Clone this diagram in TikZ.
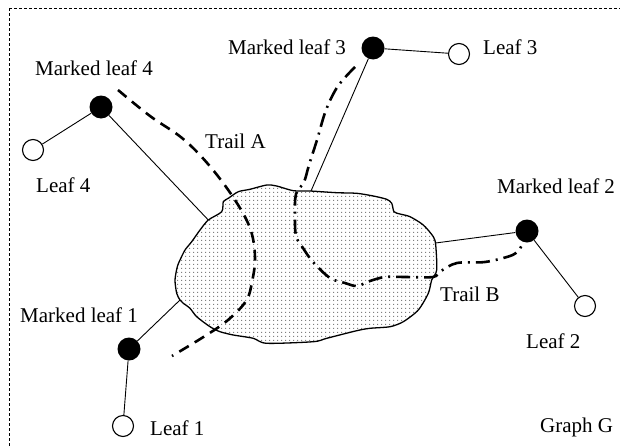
\documentclass[tikz,border=0pt]{standalone}
\usepackage{fontspec}
\setmainfont{Liberation Serif}
\usetikzlibrary{patterns.meta}

% fine grey dot grid used for the inside of the graph region
\tikzdeclarepattern{
  name=finedots,
  type=uncolored,
  tile size={(3.7pt,3.7pt)},
  bounding box={(-1.85pt,-1.85pt) and (1.85pt,1.85pt)},
  code={\pgfpathrectangle{\pgfpoint{-0.55pt}{-0.55pt}}{\pgfpoint{1.1pt}{1.1pt}}\pgfusepath{fill}}
}

\tikzset{
  marked/.style={circle, fill=black, inner sep=0pt, minimum size=23pt},
  leafnode/.style={circle, draw, line width=1.1pt, fill=white, inner sep=0pt, minimum size=21pt},
  edge/.style={line width=0.9pt},
  lbl/.style={font=\fontsize{21}{25}\selectfont, inner sep=0pt, anchor=base west},
  region/.style={line width=1.3pt, pattern=finedots, pattern color=gray},
  trailA/.style={line width=2.6pt, dash pattern=on 11pt off 7pt, line cap=butt},
  trailB/.style={line width=2.6pt, dash pattern=on 14pt off 6pt on 2pt off 6pt, line cap=butt},
  frame/.style={line width=0.8pt, dash pattern=on 3pt off 2pt}
}

\begin{document}
\begin{tikzpicture}[x=1pt, y=-1pt]
\useasboundingbox (0,0) rectangle (620,447);

% outer dashed frame
\draw[frame] (9,8) -- (630,8) (9,8) -- (9,460);

% the shaded graph region
\draw[region] plot[smooth cycle, tension=0.45] coordinates {
  (208.3,220) (221.7,211.7) (223.3,201.7) (228.3,198.3) (238.3,191.7)
  (250,189.3) (266.7,185) (276.7,186) (293.3,190.7) (310,191)
  (336.7,192.7) (356.7,193.3) (373.3,196) (386.7,199.3) (391.7,203.3)
  (394,211.7) (400,214) (410,216.7) (423.3,225) (433.3,236.7)
  (435.7,245) (436.7,270) (431.7,280) (428.3,293.3) (418.3,310)
  (403.3,321.7) (390,326.7) (370,328.3) (356.7,330.7) (326.7,338.3)
  (313.3,341.7) (266.7,343.3) (253.3,338.3) (233.3,335) (220,331.7)
  (210,326.7) (196.7,316.7) (190,308.3) (183.3,303.3) (180,300)
  (176.7,293.3) (175,280) (177.3,266.7) (180,260) (185,250)
  (191.7,241.7) (200,230)};

% attachment points on the region boundary
\coordinate (a4) at (208.3,220);
\coordinate (a3) at (311,191);
\coordinate (a2) at (435.5,243);
\coordinate (a1) at (180,300);

% leaves
\node[marked] (m4) at (101,107) {};
\node[leafnode] (l4) at (33,150) {};
\node[marked] (m3) at (373,48) {};
\node[leafnode] (l3) at (459,54) {};
\node[marked] (m2) at (527,231) {};
\node[leafnode] (l2) at (585,306) {};
\node[marked] (m1) at (129,349) {};
\node[leafnode] (l1) at (123,426) {};

% edges
\draw[edge] (l4) -- (m4);
\draw[edge] (m4) -- (a4);
\draw[edge] (m3) -- (l3);
\draw[edge] (m3) -- (a3);
\draw[edge] (m2) -- (a2);
\draw[edge] (m2) -- (l2);
\draw[edge] (m1) -- (a1);
\draw[edge] (m1) -- (l1);

% Trail A
\draw[trailA] plot[smooth, tension=0.6] coordinates {
  (118,90) (150,116) (182,138) (208,164) (233,197) (250,228)
  (255,257) (252,282) (246,301) (228,320) (205,336) (172,356)};

% Trail B
\draw[trailB] plot[smooth, tension=0.55] coordinates {
  (355,67) (338,86) (326,110) (317,140) (309,165) (304,182)
  (296,194) (295,215) (296,236) (303,248) (313,262) (330,278)
  (345,283) (357,286) (370,281) (385,277) (405,277) (433,277)
  (441,271) (457,263) (485,262) (510,256) (518,251) (522,245)};

% labels
\node[lbl] (tm4) at (35,75) {Marked leaf 4};
\node[lbl] (tl4) at (36,192) {Leaf 4};
\node[lbl] (tm3) at (228,54) {Marked leaf 3};
\node[lbl] (tl3) at (483,54) {Leaf 3};
\node[lbl] (tta) at (205,148) {Trail A};
\node[lbl] (tm2) at (497,193) {Marked leaf 2};
\node[lbl] (ttb) at (440,301) {Trail B};
\node[lbl] (tl2) at (526,348) {Leaf 2};
\node[lbl] (tm1) at (20,322) {Marked leaf 1};
\node[lbl] (tl1) at (150,435) {Leaf 1};
\node[lbl] (tg) at (540,432) {Graph G};
\end{tikzpicture}
\end{document}
